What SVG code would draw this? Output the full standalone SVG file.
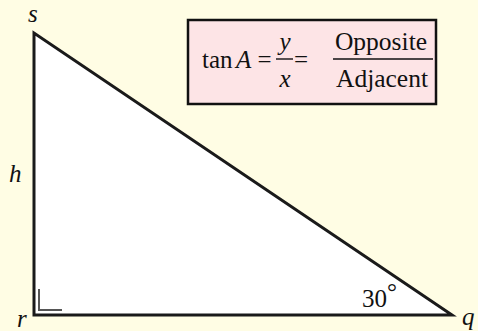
<svg xmlns="http://www.w3.org/2000/svg" width="478" height="331" viewBox="0 0 478 331">
<style>
text{font-family:"Liberation Serif","Times New Roman",serif;font-size:25px;fill:#111}
.it{font-style:italic}
.mid{text-anchor:middle}
.big{font-size:25.5px}
.bar{stroke:#111;stroke-width:1.4}
</style>
<rect x="0" y="0" width="478" height="331" fill="#FFFDE4"/>
<g id="triangle">
<polygon points="34,33 34,315 452,315" fill="#FFFFFF" stroke="#1a1a1a" stroke-width="3" stroke-linejoin="miter"/>
<polyline points="39,289 39,310 62,310" fill="none" stroke="#555555" stroke-width="2"/>
</g>
<g id="label-s"><text class="it" x="28" y="22">s</text></g>
<g id="label-h"><text class="it" x="9" y="182">h</text></g>
<g id="label-r"><text class="it" x="17" y="327">r</text></g>
<g id="label-q"><text class="it" x="462" y="325">q</text></g>
<g id="angle"><text x="362" y="307" font-size="26">30</text><text x="387" y="300" font-size="15">°</text></g>
<g id="formula">
<rect x="188" y="20" width="248" height="84" fill="#FDE4E6" stroke="#111" stroke-width="2.5"/>
<text x="202" y="68">tan</text>
<text class="it" x="236" y="68">A</text>
<text class="mid" x="264.5" y="68">=</text>
<text class="it mid" x="285" y="50">y</text>
<line class="bar" x1="276" y1="59" x2="293" y2="59"/>
<text class="it mid" x="285" y="87">x</text>
<text class="mid" x="301" y="68">=</text>
<text class="mid big" x="381" y="50">Opposite</text>
<line class="bar" x1="333" y1="59" x2="433" y2="59"/>
<text class="mid big" x="382" y="87">Adjacent</text>
</g>
</svg>
